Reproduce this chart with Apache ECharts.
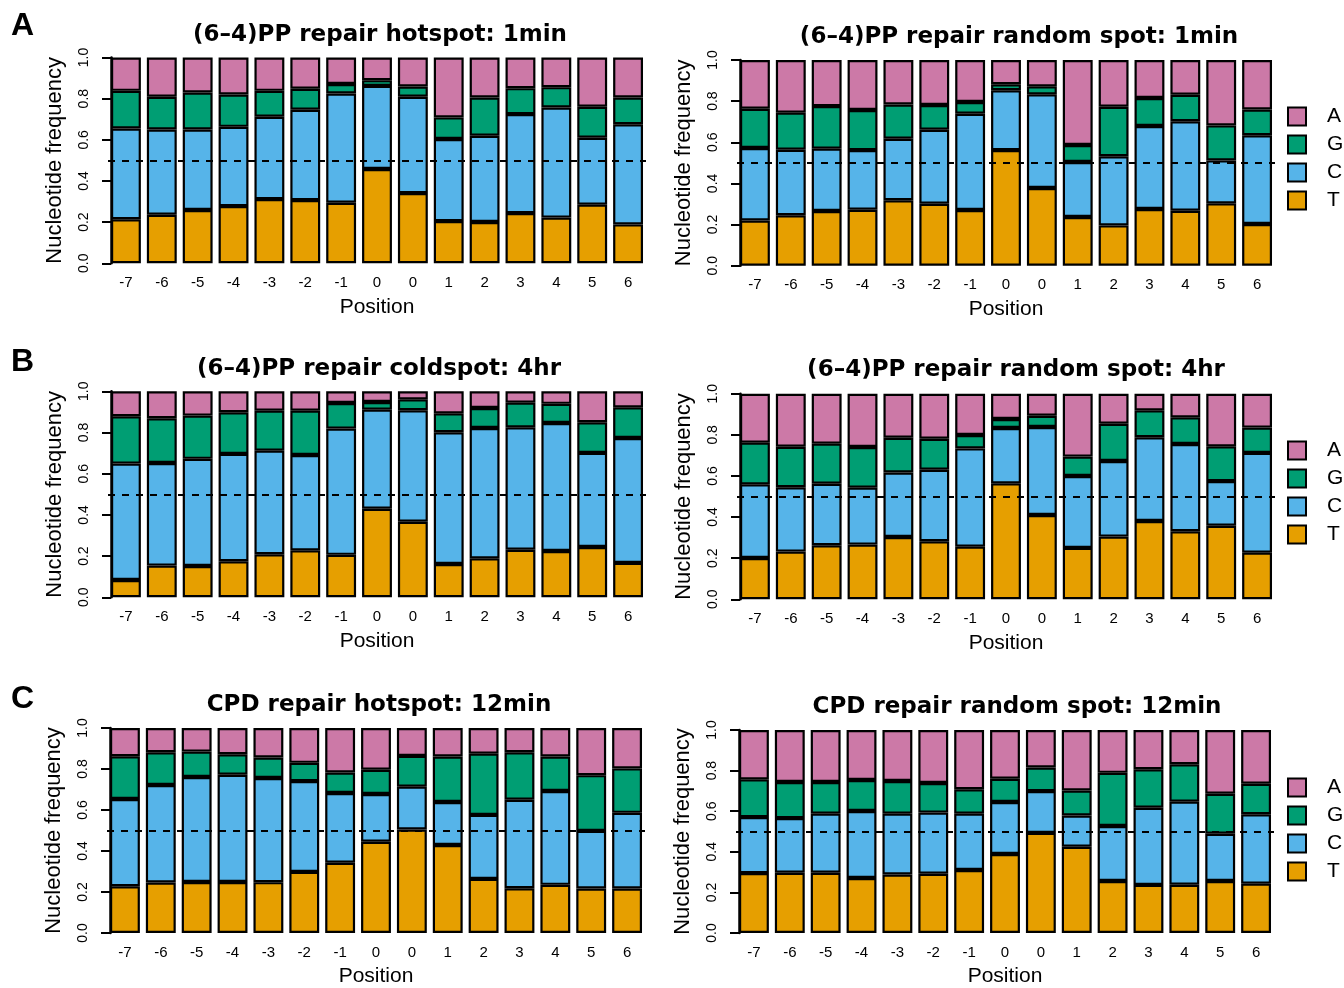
<!DOCTYPE html>
<html>
<head>
<meta charset="utf-8">
<script src="https://cdn.jsdelivr.net/npm/echarts@6/dist/echarts.min.js"></script>
<style>
html,body{margin:0;padding:0;background:#fff;}
#chart{width:1344px;height:988px;}
</style>
</head>
<body>
<div id="chart"></div>
<script>
// ---------- data ----------
const positions = ['-7','-6','-5','-4','-3','-2','-1','0','0','1','2','3','4','5','6'];
const nucleotides = ['A','G','C','T'];
const yTicks = [0, 0.2, 0.4, 0.6, 0.8, 1.0];

const titles = [
  '(6\u20134)PP repair hotspot: 1min',
  '(6\u20134)PP repair random spot: 1min',
  '(6\u20134)PP repair coldspot: 4hr',
  '(6\u20134)PP repair random spot: 4hr',
  'CPD repair hotspot: 12min',
  'CPD repair random spot: 12min'
];
const panelLetters = ['A','B','C'];

// Panel 1: (6-4)PP hotspot 1min
const hot1_T = [0.214,0.236,0.259,0.278,0.312,0.307,0.294,0.458,0.341,0.205,0.201,0.244,0.222,0.285,0.189];
const hot1_C = [0.441,0.414,0.391,0.385,0.400,0.439,0.531,0.404,0.468,0.399,0.419,0.481,0.535,0.325,0.487];
const hot1_G = [0.183,0.159,0.180,0.157,0.126,0.102,0.046,0.028,0.050,0.105,0.186,0.126,0.099,0.151,0.130];
const hot1_A = [0.162,0.191,0.170,0.180,0.162,0.152,0.129,0.110,0.141,0.291,0.194,0.149,0.144,0.239,0.194];

// Panel 2: (6-4)PP random 1min
const rnd1_T = [0.220,0.245,0.266,0.272,0.318,0.301,0.271,0.562,0.378,0.237,0.196,0.276,0.267,0.303,0.203];
const rnd1_C = [0.352,0.319,0.303,0.290,0.299,0.360,0.468,0.291,0.455,0.267,0.336,0.403,0.435,0.209,0.431];
const rnd1_G = [0.191,0.180,0.207,0.195,0.167,0.120,0.057,0.029,0.039,0.083,0.241,0.136,0.129,0.170,0.125];
const rnd1_A = [0.237,0.256,0.224,0.243,0.216,0.219,0.204,0.118,0.128,0.413,0.227,0.185,0.169,0.318,0.241];

// Panel 3: (6-4)PP coldspot 4hr
const cold4_T = [0.084,0.154,0.152,0.175,0.209,0.228,0.206,0.430,0.367,0.162,0.189,0.231,0.225,0.244,0.167];
const cold4_C = [0.565,0.498,0.520,0.521,0.503,0.463,0.613,0.481,0.541,0.639,0.633,0.594,0.621,0.457,0.606];
const cold4_G = [0.230,0.217,0.210,0.202,0.194,0.215,0.124,0.037,0.053,0.092,0.097,0.120,0.093,0.149,0.149];
const cold4_A = [0.121,0.131,0.118,0.102,0.094,0.094,0.057,0.052,0.039,0.107,0.081,0.055,0.061,0.150,0.078];

// Panel 4: (6-4)PP random 4hr
const rnd4_T = [0.201,0.232,0.263,0.266,0.303,0.282,0.256,0.564,0.410,0.250,0.305,0.381,0.331,0.358,0.227];
const rnd4_C = [0.358,0.313,0.299,0.277,0.314,0.348,0.478,0.269,0.428,0.350,0.368,0.407,0.424,0.217,0.485];
const rnd4_G = [0.203,0.197,0.195,0.198,0.169,0.151,0.065,0.044,0.055,0.094,0.181,0.131,0.130,0.169,0.123];
const rnd4_A = [0.238,0.258,0.243,0.259,0.214,0.219,0.201,0.123,0.107,0.306,0.146,0.081,0.115,0.256,0.165];

// Panel 5: CPD hotspot 12min
const cpdHot_T = [0.228,0.246,0.249,0.249,0.248,0.298,0.343,0.445,0.505,0.429,0.264,0.218,0.235,0.217,0.217];
const cpdHot_C = [0.426,0.476,0.512,0.523,0.508,0.443,0.340,0.233,0.209,0.210,0.312,0.432,0.458,0.281,0.369];
const cpdHot_G = [0.208,0.160,0.124,0.100,0.100,0.089,0.100,0.118,0.150,0.222,0.299,0.232,0.168,0.272,0.217];
const cpdHot_A = [0.138,0.118,0.115,0.128,0.144,0.170,0.217,0.204,0.136,0.139,0.125,0.118,0.139,0.230,0.197];

// Panel 6: CPD random 12min
const cpdRnd_T = [0.295,0.297,0.297,0.271,0.288,0.292,0.310,0.389,0.493,0.425,0.256,0.237,0.238,0.256,0.243];
const cpdRnd_C = [0.276,0.269,0.291,0.330,0.300,0.301,0.278,0.256,0.206,0.154,0.271,0.380,0.409,0.233,0.342];
const cpdRnd_G = [0.186,0.178,0.156,0.153,0.161,0.146,0.120,0.115,0.116,0.123,0.262,0.190,0.184,0.197,0.150];
const cpdRnd_A = [0.243,0.256,0.256,0.246,0.251,0.261,0.292,0.240,0.185,0.298,0.211,0.193,0.169,0.314,0.265];

const panelData = [
  {T: hot1_T, C: hot1_C, G: hot1_G, A: hot1_A},
  {T: rnd1_T, C: rnd1_C, G: rnd1_G, A: rnd1_A},
  {T: cold4_T, C: cold4_C, G: cold4_G, A: cold4_A},
  {T: rnd4_T, C: rnd4_C, G: rnd4_G, A: rnd4_A},
  {T: cpdHot_T, C: cpdHot_C, G: cpdHot_G, A: cpdHot_A},
  {T: cpdRnd_T, C: cpdRnd_C, G: cpdRnd_G, A: cpdRnd_A}
];

// ---------- styling / layout ----------
const colors = {T: '#E69F00', C: '#56B4E9', G: '#009E73', A: '#CC79A7'};
const FONT = 'Liberation Sans, Arial, Helvetica, sans-serif';
const TFONT = 'DejaVu Sans, Liberation Sans, sans-serif';

// grid geometry [left, top, bottom]
const gridGeom = [
  [108, 57.5, 263.3],
  [737, 60, 265.7],
  [108, 391.3, 597.3],
  [737, 393.7, 599.3],
  [107, 728, 934],
  [736, 730, 935.7]
];
const gridWidth = 538;
const titleGeom = [[380, 24], [1019, 25.5], [379, 357.5], [1016, 359], [379, 694], [1017, 696]];
const letterY = [26.6, 362.5, 699];
const legendTop = [106, 440, 777];

const grids = [], xAxes = [], yAxes = [], series = [], titleArr = [], legends = [];

gridGeom.forEach((g, i) => {
  grids.push({left: g[0], top: g[1], width: gridWidth, height: g[2] - g[1], containLabel: false});
  xAxes.push({
    type: 'category', gridIndex: i, data: positions,
    axisLine: {show: false}, axisTick: {show: false},
    axisLabel: {interval: 0, fontSize: 15, color: '#000', fontFamily: FONT, margin: 12},
    name: 'Position', nameLocation: 'middle', nameGap: 33,
    nameTextStyle: {fontSize: 21, color: '#000', fontFamily: FONT}
  });
  yAxes.push({
    type: 'value', gridIndex: i, min: 0, max: 1, interval: 0.2, offset: -3,
    axisLine: {show: true, lineStyle: {color: '#000', width: 2.5}},
    axisTick: {show: true, length: 9, lineStyle: {color: '#000', width: 2}},
    splitLine: {show: false},
    axisLabel: {rotate: 90, fontSize: 14, color: '#000', fontFamily: FONT, margin: 20,
      formatter: v => v.toFixed(1)},
    name: 'Nucleotide frequency', nameLocation: 'middle', nameGap: 45,
    nameTextStyle: {fontSize: 22, color: '#000', fontFamily: FONT}
  });
  titleArr.push({
    text: titles[i], left: titleGeom[i][0], top: titleGeom[i][1], textAlign: 'center', padding: 0,
    textStyle: {fontSize: 23, fontWeight: 'bold', color: '#000', fontFamily: TFONT}
  });
  ['T','C','G','A'].forEach(n => {
    const s = {
      name: n, type: 'bar', xAxisIndex: i, yAxisIndex: i, stack: 'p' + i,
      data: panelData[i][n], barCategoryGap: '16.67%',
      itemStyle: {color: colors[n], borderColor: '#000', borderWidth: 2.2},
      emphasis: {disabled: true}, animation: false
    };
    if (n === 'A') {
      s.markLine = {
        silent: true, symbol: 'none', label: {show: false}, animation: false,
        lineStyle: {color: '#000', type: [7, 7], width: 2},
        data: [{yAxis: 0.5}]
      };
    }
    series.push(s);
  });
});

legendTop.forEach(t => {
  legends.push({
    data: nucleotides, orient: 'vertical', left: 1287, top: t, padding: 0,
    itemWidth: 18, itemHeight: 18, itemGap: 7, icon: 'rect', selectedMode: false,
    itemStyle: {borderColor: '#000', borderWidth: 2},
    textStyle: {fontSize: 21, color: '#000', fontFamily: FONT, padding: [0, 0, 0, 16]}
  });
});

const graphics = panelLetters.map((L, k) => ({
  type: 'text', left: 11, top: letterY[k] - 16,
  style: {text: L, font: 'bold 32px ' + FONT, fill: '#000'}
}));

const chart = echarts.init(document.getElementById('chart'), null, {renderer: 'canvas'});
chart.setOption({
  animation: false,
  backgroundColor: '#fff',
  title: titleArr,
  legend: legends,
  grid: grids,
  xAxis: xAxes,
  yAxis: yAxes,
  series: series,
  graphic: graphics
});
</script>
</body>
</html>
